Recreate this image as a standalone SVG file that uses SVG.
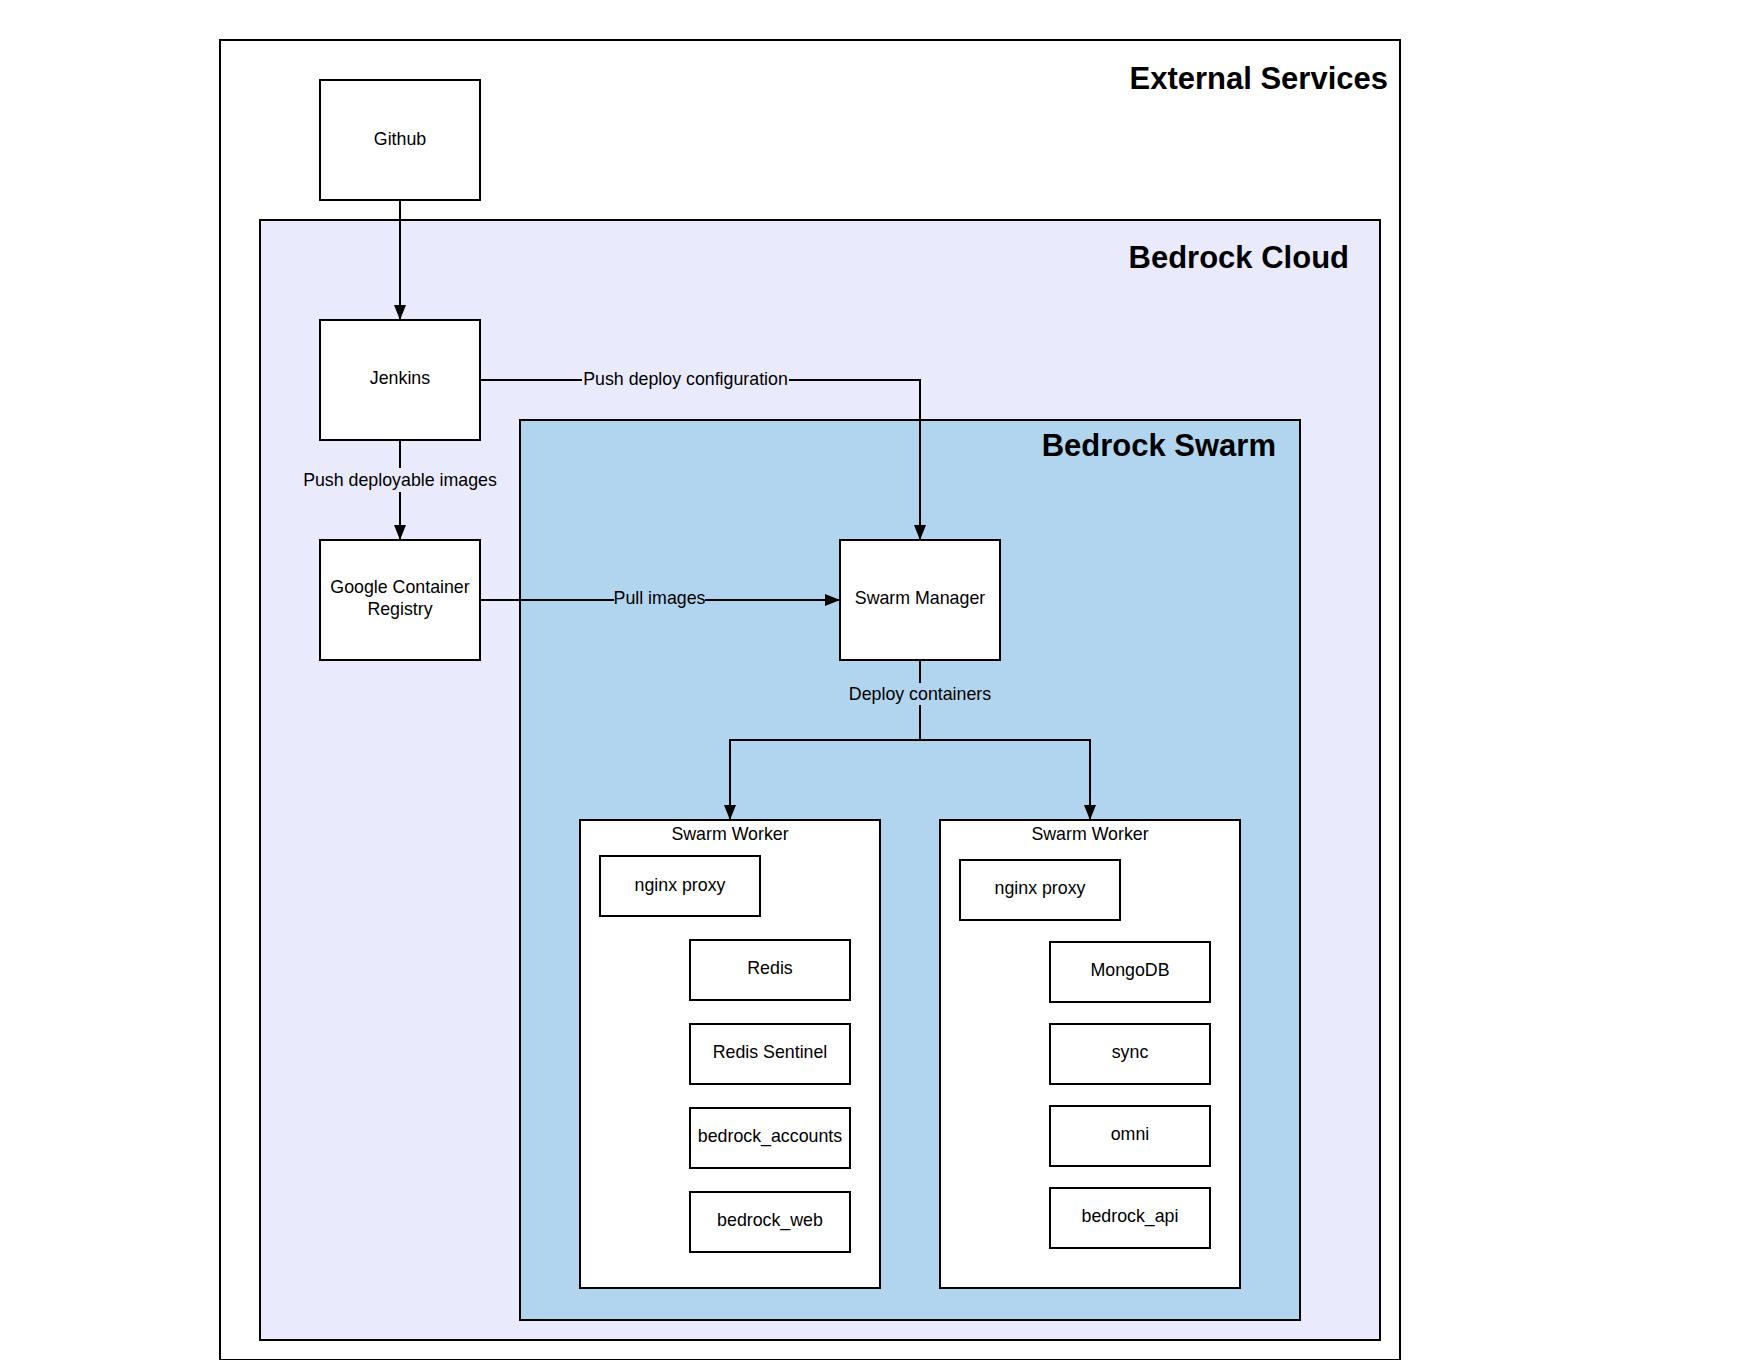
<svg xmlns="http://www.w3.org/2000/svg" width="1760" height="1360" viewBox="0 0 1760 1360">
<defs>
<style>
.box{fill:#ffffff;stroke:#000000;stroke-width:2}
.cont{stroke:#000000;stroke-width:2}
.t{font-family:"Liberation Sans",Arial,sans-serif;font-size:17.8px;fill:#000000;text-anchor:middle}
.title{font-family:"Liberation Sans",Arial,sans-serif;font-size:31px;font-weight:bold;fill:#000000;text-anchor:end}
.edge{fill:none;stroke:#000000;stroke-width:2}
</style>
<marker id="arr" markerUnits="userSpaceOnUse" markerWidth="16" markerHeight="13" refX="15" refY="6" orient="auto">
<path d="M0,0 L15,6 L0,12 z" fill="#000000"/>
</marker>
</defs>
<rect width="1760" height="1360" fill="#ffffff"/>

<g id="external-services">
<rect class="cont" x="220" y="40" width="1180" height="1320" fill="#ffffff"/>
<text class="title" x="1388" y="89">External Services</text>
</g>

<g id="bedrock-cloud">
<rect class="cont" x="260" y="220" width="1120" height="1120" fill="#e9ebfd"/>
<text class="title" x="1349" y="268">Bedrock Cloud</text>
</g>

<g id="bedrock-swarm">
<rect class="cont" x="520" y="420" width="780" height="900" fill="#b2d5ef"/>
<text class="title" x="1276" y="456">Bedrock Swarm</text>
</g>

<g id="connectors">
<path class="edge" d="M400,200 L400,320" marker-end="url(#arr)"/>
<path class="edge" d="M400,440 L400,540" marker-end="url(#arr)"/>
<rect x="302" y="468" width="196" height="24" fill="#e9ebfd"/>
<text class="t" x="400" y="486">Push deployable images</text>
<path class="edge" d="M480,380 L920,380 L920,540" marker-end="url(#arr)"/>
<rect x="582" y="368" width="207" height="22" fill="#e9ebfd"/>
<text class="t" x="685.5" y="385">Push deploy configuration</text>
<path class="edge" d="M480,600 L840,600" marker-end="url(#arr)"/>
<rect x="614" y="589" width="91" height="22" fill="#b2d5ef"/>
<text class="t" x="659.5" y="604">Pull images</text>
<path class="edge" d="M920,660 L920,740 L730,740 L730,820" marker-end="url(#arr)"/>
<path class="edge" d="M920,740 L1090,740 L1090,820" marker-end="url(#arr)"/>
<rect x="848" y="683" width="144" height="22" fill="#b2d5ef"/>
<text class="t" x="920" y="699.5">Deploy containers</text>
</g>

<g id="github">
<rect class="box" x="320" y="80" width="160" height="120"/>
<text class="t" x="400" y="144.5">Github</text>
</g>

<g id="jenkins">
<rect class="box" x="320" y="320" width="160" height="120"/>
<text class="t" x="400" y="384">Jenkins</text>
</g>

<g id="gcr">
<rect class="box" x="320" y="540" width="160" height="120"/>
<text class="t" x="400" y="592.5">Google Container</text>
<text class="t" x="400" y="614.5">Registry</text>
</g>

<g id="swarm-manager">
<rect class="box" x="840" y="540" width="160" height="120"/>
<text class="t" x="920" y="604">Swarm Manager</text>
</g>

<g id="swarm-worker-1">
<rect class="box" x="580" y="820" width="300" height="468"/>
<text class="t" x="730" y="839.5">Swarm Worker</text>
</g>
<g id="w1-nginx"><rect class="box" x="600" y="856" width="160" height="60"/><text class="t" x="680" y="890.5">nginx proxy</text></g>
<g id="w1-redis"><rect class="box" x="690" y="940" width="160" height="60"/><text class="t" x="770" y="974">Redis</text></g>
<g id="w1-sentinel"><rect class="box" x="690" y="1024" width="160" height="60"/><text class="t" x="770" y="1058">Redis Sentinel</text></g>
<g id="w1-accounts"><rect class="box" x="690" y="1108" width="160" height="60"/><text class="t" x="770" y="1142">bedrock_accounts</text></g>
<g id="w1-web"><rect class="box" x="690" y="1192" width="160" height="60"/><text class="t" x="770" y="1226">bedrock_web</text></g>

<g id="swarm-worker-2">
<rect class="box" x="940" y="820" width="300" height="468"/>
<text class="t" x="1090" y="839.5">Swarm Worker</text>
</g>
<g id="w2-nginx"><rect class="box" x="960" y="860" width="160" height="60"/><text class="t" x="1040" y="894">nginx proxy</text></g>
<g id="w2-mongodb"><rect class="box" x="1050" y="942" width="160" height="60"/><text class="t" x="1130" y="976">MongoDB</text></g>
<g id="w2-sync"><rect class="box" x="1050" y="1024" width="160" height="60"/><text class="t" x="1130" y="1058">sync</text></g>
<g id="w2-omni"><rect class="box" x="1050" y="1106" width="160" height="60"/><text class="t" x="1130" y="1140">omni</text></g>
<g id="w2-api"><rect class="box" x="1050" y="1188" width="160" height="60"/><text class="t" x="1130" y="1222">bedrock_api</text></g>
</svg>
